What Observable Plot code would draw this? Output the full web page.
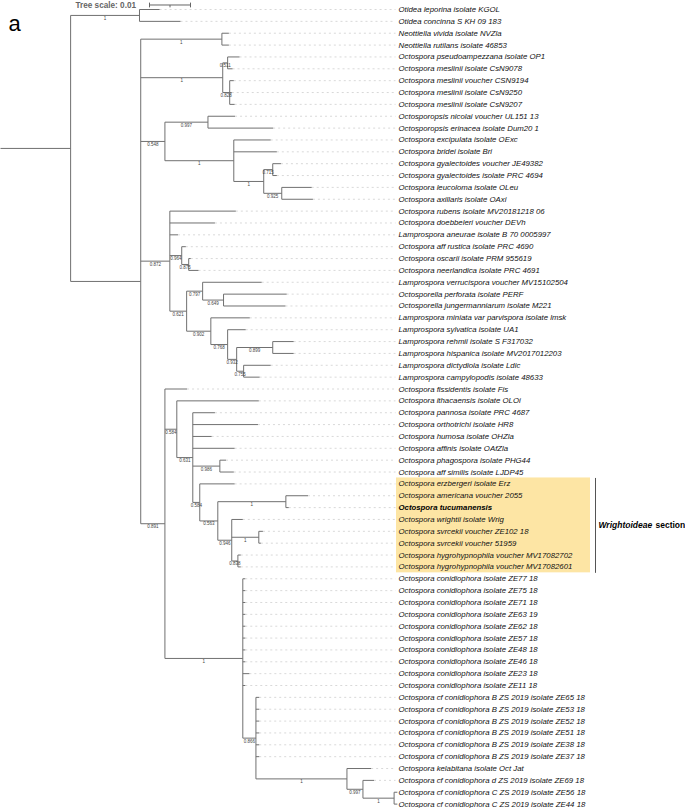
<!DOCTYPE html>
<html><head><meta charset="utf-8">
<script src="https://cdn.jsdelivr.net/npm/d3@7"></script>
<script src="https://cdn.jsdelivr.net/npm/@observablehq/plot@0.6"></script>
<style>body{margin:0;background:#fff}#chart svg{display:block}</style>
</head><body><div id="chart"></div>
<script>
// ---- data ----
const leafNames = [
  "Otidea leporina isolate KGOL",
  "Otidea concinna S KH 09 183",
  "Neottiella vivida isolate NVZla",
  "Neottiella rutilans isolate 46853",
  "Octospora pseudoampezzana isolate OP1",
  "Octospora meslinii isolate CsN9078",
  "Octospora meslinii voucher CSN9194",
  "Octospora meslinii isolate CsN9250",
  "Octospora meslinii isolate CsN9207",
  "Octosporopsis nicolai voucher UL151 13",
  "Octosporopsis erinacea isolate Dum20 1",
  "Octospora excipulata isolate OExc",
  "Octospora bridei isolate Bri",
  "Octospora gyalectoides voucher JE49382",
  "Octospora gyalectoides isolate PRC 4694",
  "Octospora leucoloma isolate OLeu",
  "Octospora axillaris isolate OAxi",
  "Octospora rubens isolate MV20181218 06",
  "Octospora doebbeleri voucher DEVh",
  "Lamprospora aneurae isolate B 70 0005997",
  "Octospora aff rustica isolate PRC 4690",
  "Octospora oscarii isolate PRM 955619",
  "Octospora neerlandica isolate PRC 4691",
  "Lamprospora verrucispora voucher MV15102504",
  "Octosporella perforata isolate PERF",
  "Octosporella jungermanniarum isolate M221",
  "Lamprospora miniata var parvispora isolate lmsk",
  "Lamprospora sylvatica isolate UA1",
  "Lamprospora rehmii isolate S F317032",
  "Lamprospora hispanica isolate MV2017012203",
  "Lamprospora dictydiola isolate Ldic",
  "Lamprospora campylopodis isolate 48633",
  "Octospora fissidentis isolate Fis",
  "Octospora ithacaensis isolate OLOi",
  "Octospora pannosa isolate PRC 4687",
  "Octospora orthotrichi isolate HR8",
  "Octospora humosa isolate OHZla",
  "Octospora affinis isolate OAfZla",
  "Octospora phagospora isolate PHG44",
  "Octospora aff similis isolate LJDP45",
  "Octospora erzbergeri isolate Erz",
  "Octospora americana voucher 2055",
  "Octospora tucumanensis",
  "Octospora wrightii isolate Wrig",
  "Octospora svrcekii voucher ZE102 18",
  "Octospora svrcekii voucher 51959",
  "Octospora hygrohypnophila voucher MV17082702",
  "Octospora hygrohypnophila voucher MV17082601",
  "Octospora conidiophora isolate ZE77 18",
  "Octospora conidiophora isolate ZE75 18",
  "Octospora conidiophora isolate ZE71 18",
  "Octospora conidiophora isolate ZE63 19",
  "Octospora conidiophora isolate ZE62 18",
  "Octospora conidiophora isolate ZE57 18",
  "Octospora conidiophora isolate ZE48 18",
  "Octospora conidiophora isolate ZE46 18",
  "Octospora conidiophora isolate ZE23 18",
  "Octospora conidiophora isolate ZE11 18",
  "Octospora cf conidiophora B ZS 2019 isolate ZE65 18",
  "Octospora cf conidiophora B ZS 2019 isolate ZE53 18",
  "Octospora cf conidiophora B ZS 2019 isolate ZE52 18",
  "Octospora cf conidiophora B ZS 2019 isolate ZE51 18",
  "Octospora cf conidiophora B ZS 2019 isolate ZE38 18",
  "Octospora cf conidiophora B ZS 2019 isolate ZE37 18",
  "Octospora kelabitana isolate Oct Jat",
  "Octospora cf conidiophora d ZS 2019 isolate ZE69 18",
  "Octospora cf conidiophora C ZS 2019 isolate ZE56 18",
  "Octospora cf conidiophora C ZS 2019 isolate ZE44 18"
];
const boldLeaves = ["Octospora tucumanensis"];

// topology: leaf numbers index leafNames; internal labels = support; :x = branch length
const treeNewick = `
((0:0.0049,1:0.0100)1:0.0168,
 ((2:0.0017,3:0.0017)1:0.0198,
  ((4:0.0029,5:0.0012)0.511:0.0012,(6:0.0010,7:0.0005,8:0.0012)0.828:0.0017)1:0.0200,
  ((9:0.0066,10:0.0159)0.997:0.0105,(11:0.0090,12:0.0105,((13:0.0020,14:0.0010)0.715:0.0022,(15:0.0073,16:0.0076)0.925:0.0044)1:0.0073)1:0.0168)0.548:0.0059,
  (17:0.0161,18:0.0110,19:0.0020,(20:0.0010,(21:0.0005,22:0.0024)0.875:0.0017)0.964:0.0029,
   ((23:0.0144,(24:0.0154,25:0.0151)0.649:0.0051)0.797:0.0039,
    (26:0.0095,(27:0.0044,((28:0.0051,29:0.0051)0.899:0.0088,(30:0.0066,31:0.0039)0.755:0.0017)0.932:0.0022)0.768:0.0041)0.902:0.0059)0.621:0.0041)0.872:0.0071,
  (32:0.0054,
   (33:0.0200,(34:0.0054,35:0.0159,36:0.0046,37:0.0102,(38:0.0015,39:0.0034)0.986:0.0066,
     (40:0.0085,((41:0.0054,42:0.0007)1:0.0166,(43:0.0027,(44:0.0010,45:0.0005)1:0.0066,(46:0.0007,47:0.0007)0.838:0.0015)0.946:0.0034)0.563:0.0044)0.584:0.0017)0.631:0.0039)0.584:0.0029,
   (48:0.0006,49:0.0006,50:0.0006,51:0.0006,52:0.0006,53:0.0006,54:0.0006,55:0.0006,56:0.0016,57:0.0006,
    (58:0.0008,59:0.0008,60:0.0008,61:0.0008,62:0.0008,63:0.0008,
     (64:0.0059,(65:0.0027,(66:0.0008,67:0.0008)1:0.0076)0.997:0.0039)1:0.0222)0.866:0.0032)1:0.0190)0.891:0.0059
 ):0.0171
):0.0171;`;

const sectionLeaves = [40, 47];          // first/last leaf of the highlighted section
const sectionLabel = ["Wrightoideae", "section"];
const treeScaleValue = 0.01;
const treeScaleLabel = "Tree scale: 0.01";
const panelLetter = "a";

// ---- parse & layout ----
function parseNewick(str) {
  const s = str.replace(/\s+/g, "");
  let i = 0;
  function node() {
    const n = {children: []};
    if (s[i] === "(") {
      i++;
      n.children.push(node());
      while (s[i] === ",") { i++; n.children.push(node()); }
      i++; // ')'
    }
    let lab = "";
    while (i < s.length && !":,);".includes(s[i])) lab += s[i++];
    let len = 0;
    if (s[i] === ":") {
      i++;
      let num = "";
      while (i < s.length && !",);".includes(s[i])) num += s[i++];
      len = +num;
    }
    if (n.children.length) n.support = lab; else n.leaf = +lab;
    n.length = len;
    return n;
  }
  return node();
}
const root = parseNewick(treeNewick);
const nodes = [];
(function layout(n, depth, parent) {
  n.x = depth + n.length;
  n.px = parent ? parent.x : 0;
  nodes.push(n);
  if (n.children.length) {
    n.children.forEach(c => layout(c, n.x, n));
    n.y = (n.children[0].y + n.children[n.children.length - 1].y) / 2;
  } else {
    n.y = n.leaf;
    n.name = leafNames[n.leaf];
  }
})(root, 0, null);

const hBranches = nodes.map(n => ({x1: n.px, x2: n.x, y: n.y}));
const vBranches = nodes.filter(n => n.children.length).map(n => ({
  x: n.x, y1: n.children[0].y, y2: n.children[n.children.length - 1].y
}));
const supports = nodes.filter(n => n.children.length && n.support).map(n => ({
  x: (n.px + n.x) / 2, y: n.y, text: n.support
}));
const leaves = nodes.filter(n => !n.children.length);

// ---- layout constants (pixels → tree units) ----
const W = 685, H = 808;
const unitPx = 4100;               // pixels per substitution unit
const u = px => px / unitPx;
const leaderEnd = u(395), labelX = u(398);
const hlX1 = u(396), hlX2 = u(590), barX = u(595);
const rowTop = 9, rowBottom = 803.6;
const topRow = -0.38;
const scaleX1 = u(149);

const font = "Liberation Sans, Arial, sans-serif";
const gray = "#707070";

const plot = Plot.plot({
  width: W, height: H, margin: 0,
  x: {domain: [0, W / unitPx], range: [0, W], axis: null},
  y: {domain: [0, leafNames.length - 1], range: [rowTop, rowBottom], axis: null},
  style: {fontFamily: font, background: "#fff"},
  marks: [
    // highlighted section
    Plot.rect([0], {x1: hlX1, x2: hlX2, y1: sectionLeaves[0] - 0.5, y2: sectionLeaves[1] + 0.5, fill: "#fde5a4"}),
    // dotted leaders
    Plot.link(leaves.filter(d => d.x < leaderEnd), {x1: "x", x2: leaderEnd, y1: "y", y2: "y",
      stroke: "#c8c8c8", strokeWidth: 0.7, strokeDasharray: "2,3"}),
    // branches
    Plot.link(hBranches, {x1: "x1", x2: "x2", y1: "y", y2: "y", stroke: gray, strokeWidth: 1}),
    Plot.link(vBranches, {x1: "x", x2: "x", y1: "y1", y2: "y2", stroke: gray, strokeWidth: 1}),
    // supports
    Plot.text(supports, {x: "x", y: "y", text: "text", dy: 3, fontSize: 4.5, fill: "#444"}),
    // leaf labels
    Plot.text(leaves.filter(d => !boldLeaves.includes(d.name)), {x: labelX, y: "y", text: "name",
      textAnchor: "start", fontSize: 7.8, fontStyle: "italic", fill: "#111"}),
    Plot.text(leaves.filter(d => boldLeaves.includes(d.name)), {x: labelX, y: "y", text: "name",
      textAnchor: "start", fontSize: 7.8, fontStyle: "italic", fontWeight: "bold", fill: "#000"}),
    // section bracket + label
    Plot.link([0], {x1: barX, x2: barX, y1: sectionLeaves[0] - 0.5, y2: sectionLeaves[1] + 0.5, stroke: "#555", strokeWidth: 1}),
    Plot.text([sectionLabel[0]], {x: u(598), y: (sectionLeaves[0] + sectionLeaves[1]) / 2, text: d => d,
      textAnchor: "start", fontSize: 8.5, fontStyle: "italic", fontWeight: "bold", fill: "#000"}),
    Plot.text([sectionLabel[1]], {x: u(655), y: (sectionLeaves[0] + sectionLeaves[1]) / 2, text: d => d,
      textAnchor: "start", fontSize: 8.5, fontWeight: "bold", fill: "#000"}),
    // tree scale
    Plot.text([treeScaleLabel], {x: u(75), y: topRow, text: d => d, textAnchor: "start",
      fontSize: 8.2, fontWeight: "bold", fill: "#666"}),
    Plot.link([0], {x1: scaleX1, x2: scaleX1 + treeScaleValue, y1: topRow, y2: topRow, stroke: "#666", strokeWidth: 1}),
    Plot.link([0, 0.5, 1], {x1: d => scaleX1 + d * treeScaleValue, x2: d => scaleX1 + d * treeScaleValue,
      y1: d => topRow - (d === 0.5 ? 0 : 0.2), y2: d => topRow + 0.2, stroke: "#666", strokeWidth: 1}),
    // panel letter
    Plot.text([panelLetter], {frameAnchor: "top-left", dx: 8, dy: 15, text: d => d,
      textAnchor: "start", fontSize: 22, fill: "#000"})
  ]
});
document.getElementById("chart").append(plot);
</script>
</body></html>
